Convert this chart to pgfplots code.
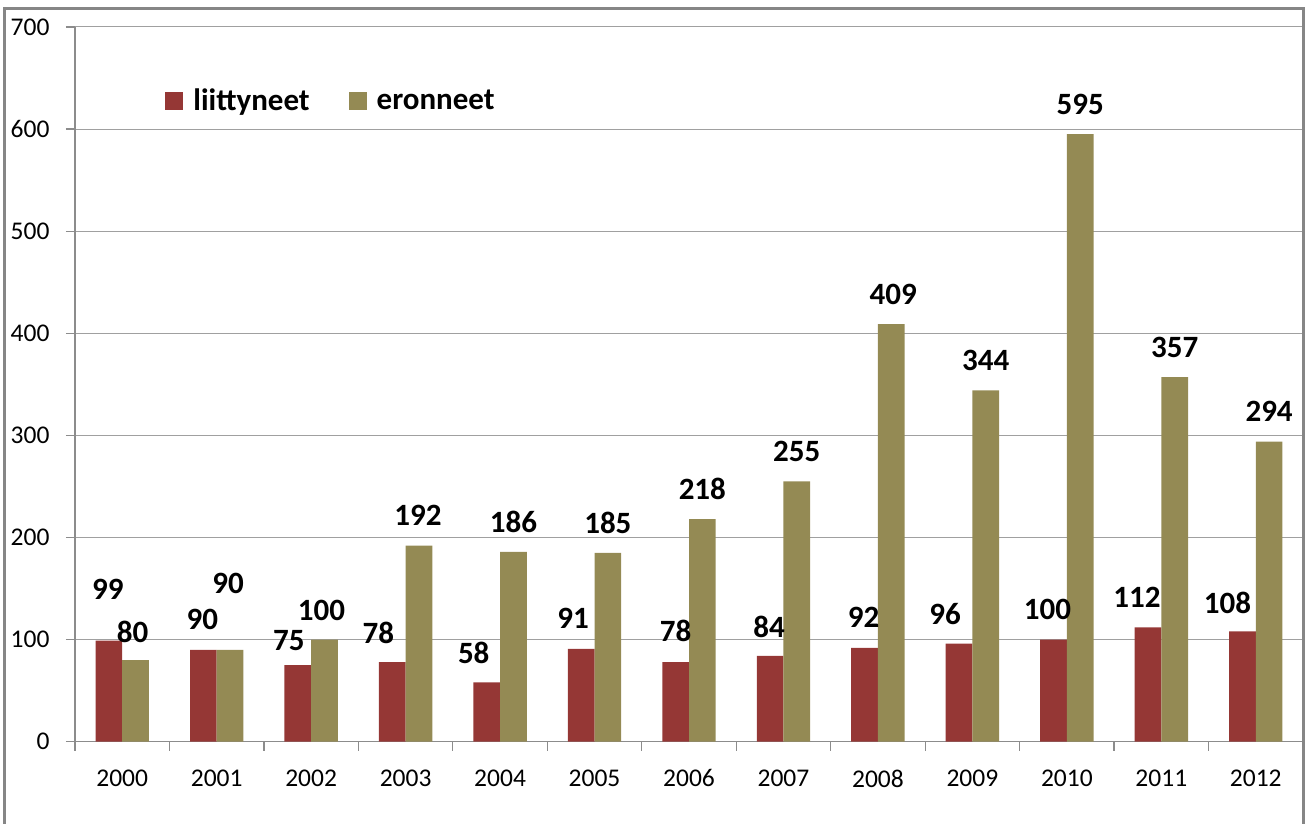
\documentclass[border=0pt]{standalone}
\usepackage{pgfplots}
\pgfplotsset{compat=1.18}
\usepackage{pgfplotstable}
\usepackage{fontspec}
\setmainfont{Carlito}

\definecolor{liitt}{HTML}{953735}
\definecolor{eron}{HTML}{948A54}
\definecolor{gridc}{HTML}{A0A0A0}
\definecolor{axisc}{HTML}{8C8C8C}
\definecolor{framec}{HTML}{868686}

% x = category index, ldx/ldy, edx/edy = label offsets (pt) from default place
\pgfplotstableread{
x  year liitt ldx   ldy   eron edx   edy
0  2000 99    -0.5  10.5  80   -1.5  -1
1  2001 90    -0.5  0     90   -1    18
2  2002 75    -4.5  -2.5  100  -1.5  -0.5
3  2003 78    -7    -0.5  192  -0.5  0
4  2004 58    -6.5  0     186  0     0
5  2005 91    -4    0     185  0     0
6  2006 78    0     0.5   218  0     0
7  2007 84    -0.5  -0.5  255  0     0
8  2008 92    -0.5  0     409  1     0
9  2009 96    -7    0     344  0     0
10 2010 100   -3    0     595  0     0
11 2011 112   -5.5  0     357  0     0
12 2012 108   -7.5  -0.5  294  0     0
}\datatable

% one x unit = 614pt/13, one y unit = 357.35pt/700
\def\xu{47.2308}
\def\yu{0.5105}

\begin{document}
\begin{tikzpicture}
\begin{axis}[
  name=ax,
  scale only axis,
  width=614pt, height=357.35pt,
  xmin=-0.5, xmax=12.5,
  ymin=0, ymax=700,
  axis lines*=left,
  axis line style={draw=axisc, line width=0.6pt, -},
  tick align=outside,
  major tick length=4.5pt,
  tick style={draw=axisc, line width=0.6pt},
  ytick={0,100,...,700},
  ymajorgrids,
  grid style={draw=gridc, line width=0.5pt},
  xtick={-0.5,0.5,...,12.5},
  xticklabels={},
  extra x ticks={0,1,...,12},
  extra x tick labels={2000,2001,2002,2003,2004,2005,2006,2007,2008,2009,2010,2011,2012},
  extra x tick style={major tick length=0pt, grid=none,
    xticklabel style={yshift=-10.5pt}},
  ticklabel style={font=\fontsize{12.75}{15}\selectfont},
  yticklabel style={xshift=-4.75pt},
  /pgf/number format/assume math mode=true,
  legend columns=2,
  legend style={at={(rel axis cs:0.0733,0.8965)}, anchor=west,
    draw=none, fill=none, inner sep=0pt,
    font=\fontsize{15.5}{18}\selectfont\bfseries,
    nodes={inner sep=0pt},
    /tikz/every odd column/.append style={column sep=5pt},
    /tikz/every even column/.append style={column sep=19.5pt}},
  datalabel/.style={draw=none, mark=none, forget plot,
    nodes near coords, point meta=explicit,
    every node near coord/.append style={anchor=center, text=black,
      font=\fontsize{15.5}{18}\selectfont\bfseries}},
]
\addplot[ybar, fill=liitt, draw=none, bar width=0.2825, bar shift=-0.14125,
  legend image code/.code={\fill[liitt] (0pt,-4.5pt) rectangle (9pt,4.5pt);},
] table[x=x, y=liitt] {\datatable};
\addlegendentry{liittyneet}
\addplot[ybar, fill=eron, draw=none, bar width=0.2825, bar shift=0.14125,
  legend image code/.code={\fill[eron] (0pt,-4.5pt) rectangle (9pt,4.5pt);},
] table[x=x, y=eron] {\datatable};
\addlegendentry{eronneet}

% value labels above the bars
\addplot[datalabel] table[
  x expr=\thisrow{x}-0.14125+\thisrow{ldx}/\xu,
  y expr=\thisrow{liitt}+(15+\thisrow{ldy})/\yu,
  meta=liitt] {\datatable};
\addplot[datalabel] table[
  x expr=\thisrow{x}+0.14125+\thisrow{edx}/\xu,
  y expr=\thisrow{eron}+(15+\thisrow{edy})/\yu,
  meta=eron] {\datatable};
\end{axis}
\draw[framec, line width=1.5pt]
  ([shift={(-35pt,-60pt)}]ax.south west) -- ([shift={(-35pt,366.35pt)}]ax.south west)
  -- ([shift={(614pt,366.35pt)}]ax.south west) -- ([shift={(614pt,-60pt)}]ax.south west);
\pgfresetboundingbox
\path[use as bounding box] ([shift={(-37.5pt,-41.15pt)}]ax.south west)
  rectangle ([shift={(616pt,370.85pt)}]ax.south west);
\end{tikzpicture}
\end{document}
